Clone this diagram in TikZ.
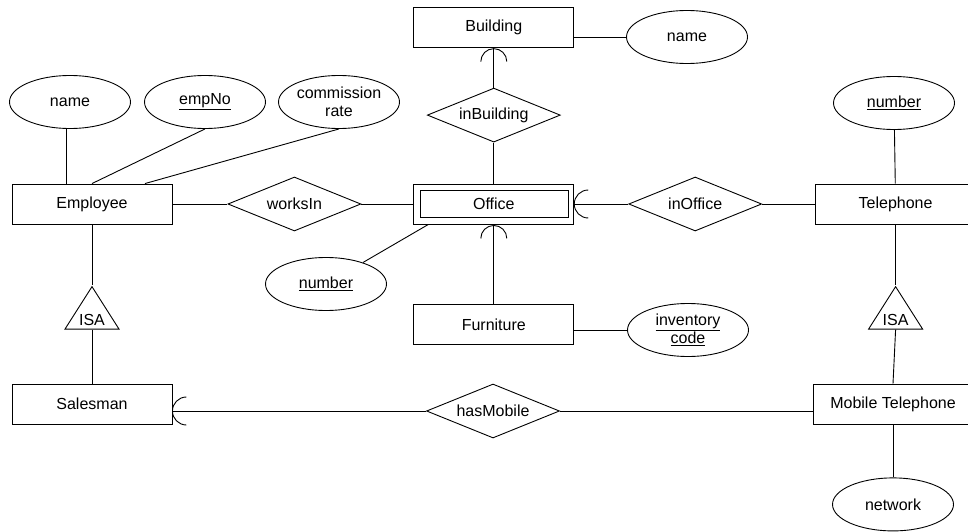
\documentclass[tikz,border=0pt]{standalone}
\usepackage{fontspec}
\setmainfont{Liberation Sans}
\usetikzlibrary{positioning}
\usetikzlibrary{shapes.geometric}

\begin{document}
\begin{tikzpicture}[
    x=1pt, y=-1pt, line width=0.9pt,
    font=\fontsize{16}{18.5}\selectfont,
    entity/.style={draw, minimum width=160pt, minimum height=40pt, inner sep=0pt},
    rel/.style={draw, diamond, aspect=2.46, minimum width=133pt, minimum height=54pt, inner sep=0pt},
    attr/.style={draw, ellipse, minimum width=121pt, minimum height=53pt, inner sep=0pt, align=center},
    isa/.style={draw, isosceles triangle, shape border rotate=90, isosceles triangle stretches,
                minimum width=54pt, minimum height=40pt, inner sep=0pt}
]
    \useasboundingbox (0,0) rectangle (968,532);

    % Entities and relationships in the middle row
    \node[entity] (emp) at (92,204) {Employee};
    \node[rel, right=55pt of emp] (worksin) {worksIn};
    \node[entity, right=52pt of worksin] (office) {Office};
    \node[rel, right=54pt of office] (inoffice) {inOffice};
    \node[entity, right=53pt of inoffice] (tel) {Telephone};

    % Building above the office
    \node[rel, above=41pt of office] (inbuilding) {inBuilding};
    \node[entity, above=40pt of inbuilding] (building) {Building};
    \node[attr] (bname) at (687,37) {name};

    % Furniture below the office
    \node[entity, below=80pt of office] (furniture) {Furniture};
    \node[attr] (invcode) at (688,330) {\underline{inventory}\\\underline{code}};
    \node[attr] (onum) at (326,284) {\underline{number}};

    % Employee attributes
    \node[attr] (ename) at (70,102) {name};
    \node[attr] (empno) at (205,102) {\underline{empNo}};
    \node[attr] (comm) at (339,102) {commission\\rate};

    % Telephone attribute
    \node[attr] (telnum) at (894,103) {\underline{number}};

    % Subclasses
    \node[isa, below=61pt of emp, anchor=apex] (isa1) {ISA};
    \node[entity] (sales) at (92,404) {Salesman};
    \node[isa, below=61pt of tel, anchor=apex] (isa2) {ISA};
    \node[entity] (mobtel) at (893,404) {Mobile Telephone};
    \node[attr, below=53pt of mobtel] (network) {network};
    \node[rel] (hasmob) at (493,411) {hasMobile};

    % weak entity inner box
    \draw ([shift={(7,7)}]office.north west) rectangle ([shift={(-6,-7)}]office.south east);

    % Connectors
    \draw ([xshift=-4pt]ename.south) -- ([xshift=-4pt]ename.south |- emp.north);
    \draw (empno.south) -- (emp.north);
    \draw (comm.south) -- ([xshift=53pt]emp.north);
    \draw (emp) -- (worksin);
    \draw (worksin) -- (office);
    \draw (office) -- (inoffice);
    \draw (inoffice) -- (tel);
    \draw (telnum) -- (tel);
    \draw (inbuilding) -- (office);
    \draw (inbuilding) -- (building);
    \draw (bname.west) -- (bname.west -| building.east);
    \draw (furniture) -- (office);
    \draw (invcode.west) -- (invcode.west -| furniture.east);
    \draw (onum) -- ([xshift=15pt]office.south west);
    \draw (emp.south) -- (isa1.apex);
    \draw (isa1.lower side) -- (sales.north);
    \draw (tel.south) -- (isa2.apex);
    \draw (isa2.lower side) -- (mobtel.north);
    \draw (mobtel) -- (network);
    \coordinate (salesend) at (sales.east |- hasmob.west);
    \draw (hasmob.west) -- (salesend);
    \draw (hasmob.east) -- (hasmob.east -| mobtel.west);

    % Key constraint arcs
    \draw ([xshift=-13pt, yshift=-14pt]building.south) arc[start angle=180, end angle=0, radius=13pt];
    \draw ([xshift=-13pt, yshift=-14pt]office.south) arc[start angle=180, end angle=0, radius=13pt];
    \draw ([xshift=14pt, yshift=14pt]office.east) arc[start angle=90, end angle=270, radius=14pt];
    \draw ([xshift=14pt, yshift=14pt]salesend) arc[start angle=90, end angle=270, radius=14pt];
\end{tikzpicture}
\end{document}
